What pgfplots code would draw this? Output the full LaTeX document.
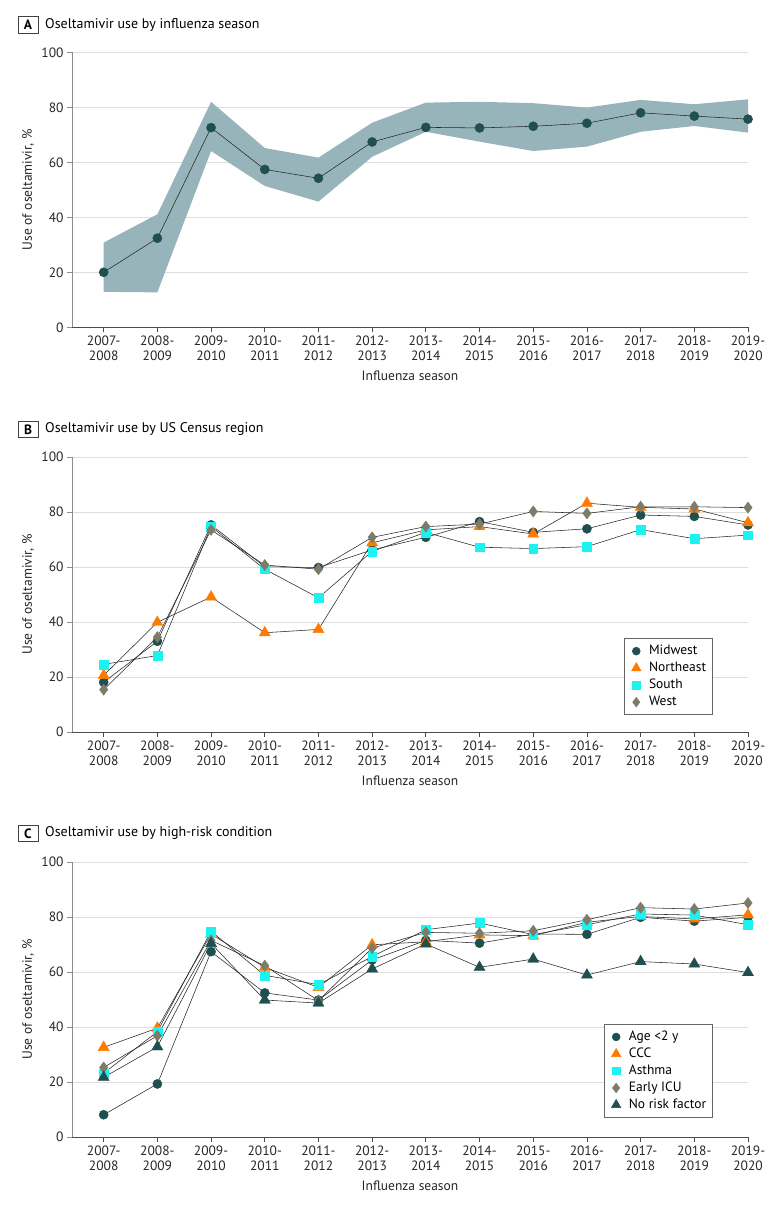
\documentclass[border=0pt]{standalone}
\usepackage{fontspec}
\setmainfont{PT Sans}
\usepackage{pgfplots}
\usepackage{pgfplotstable}
\pgfplotsset{compat=1.18}

\definecolor{band}{HTML}{98B4BB}
\definecolor{dteal}{HTML}{1F4F4E}
\definecolor{orng}{HTML}{FF7A00}
\definecolor{cyn}{HTML}{1CF2F2}
\definecolor{olive}{HTML}{7E7C69}
\definecolor{gridc}{HTML}{DDDDDD}

% panel A: mean
\pgfplotstableread{
x mean
0 20.0
1 32.4
2 72.6
3 57.4
4 54.2
5 67.4
6 72.7
7 72.5
8 73.1
9 74.2
10 78.0
11 76.8
12 75.7
}\tabA

% panel B: census region
\pgfplotstableread{
x mw ne so we
0 18.1 20.6 24.6 15.4
1 33.0 39.9 27.8 34.5
2 75.3 49.1 74.7 73.5
3 60.1 36.1 59.2 60.7
4 59.8 37.3 48.8 59.2
5 66.2 68.8 65.7 70.8
6 70.8 73.5 72.6 74.7
7 76.5 74.7 67.2 75.6
8 72.6 72.0 66.7 80.2
9 73.9 83.2 67.4 79.5
10 78.9 81.7 73.6 81.9
11 78.4 81.1 70.3 81.9
12 75.3 76.1 71.6 81.6
}\tabB

% panel C: high-risk condition
\pgfplotstableread{
x age ccc ast icu nrf
0 8.1 32.6 23.2 25.3 21.7
1 19.3 39.6 38.3 36.8 32.8
2 67.4 73.8 74.8 71.5 70.4
3 52.4 61.7 58.8 62.3 49.8
4 49.8 54.4 55.4 49.6 48.7
5 64.4 69.9 65.6 68.7 61.1
6 71.5 71.0 75.4 74.4 70.2
7 70.5 73.5 77.8 74.1 61.7
8 73.8 73.2 73.6 75.0 64.7
9 73.7 78.1 77.2 79.0 58.9
10 79.9 80.2 81.1 83.4 63.8
11 78.5 79.3 80.7 82.9 62.9
12 79.9 80.8 77.2 85.1 59.8
}\tabC

\newcommand{\fs}{\fontsize{13.5}{15}\selectfont}

\pgfplotsset{
  flu/.style={
    width=676pt, height=275pt, scale only axis,
    xmin=-0.59, xmax=12, ymin=0, ymax=100,
    xtick={0,...,12},
    xticklabels={{2007-\\2008},{2008-\\2009},{2009-\\2010},{2010-\\2011},{2011-\\2012},{2012-\\2013},{2013-\\2014},{2014-\\2015},{2015-\\2016},{2016-\\2017},{2017-\\2018},{2018-\\2019},{2019-\\2020}},
    ytick={0,20,...,100},
    axis x line*=bottom, axis y line*=left,
    x axis line style={draw=black!70, -, line width=0.8pt},
    y axis line style={draw=black!45, -, line width=0.8pt},
    tick align=outside, major tick length=5pt,
    xtick style={draw=black!70, line width=0.8pt},
    ytick style={draw=black!45, line width=0.8pt},
    ymajorgrids, grid style={gridc, line width=0.9pt},
    tick label style={font=\fs, text=black!85},
    xticklabel style={align=center},
    /pgf/number format/assume math mode=true,
    xlabel={Influenza season}, ylabel={Use of oseltamivir, \%},
    label style={font=\fs, text=black!85},
    xlabel style={at={(axis description cs:0.5,-0.178)}, anchor=center},
    ylabel style={at={(axis description cs:-0.0651,0.5)}, anchor=center},
    legend cell align=left,
    legend style={font=\fs, draw=black!60, line width=0.6pt, inner sep=4pt,
      nodes={text height=10.2pt, text depth=3.3pt, inner sep=1.75pt}},
    clip=false,
  },
  ln/.style={black!85, line width=0.55pt, forget plot},
  % marks only in the legend, set a little left of the entry text
  lg/.style={legend image code/.code={%
      \path[draw=none, fill=none] (0pt,-4pt) rectangle (19pt,4pt);
      \draw[##1, /tikz/every mark/.append style={scale=0.85}] plot coordinates {(8pt,0pt)};}},
  mA/.style={only marks, mark=*, mark size=4.6pt, mark options={fill=dteal, draw=dteal}, lg},
  mB/.style={only marks, mark=triangle*, mark size=6.4pt, mark options={fill=orng, draw=orng}, lg},
  mC/.style={only marks, mark=square*, mark size=4.4pt, mark options={fill=cyn, draw=cyn}, lg},
  mD/.style={only marks, mark=diamond*, mark size=5.6pt, mark options={fill=olive, draw=olive}, lg},
  mE/.style={only marks, mark=triangle*, mark size=6.4pt, mark options={fill=dteal, draw=dteal}, lg},
}

\newcommand{\panel}[3]{%
  \node[draw=black!75, line width=0.6pt, minimum width=20pt, minimum height=16.7pt, inner sep=0pt,
        font=\fs\bfseries] at (-44pt,#1) {#2};
  \node[anchor=west, font=\fontsize{14}{16}\selectfont, inner sep=0pt] at (-27pt,#1) {#3};}

\begin{document}
\begin{tikzpicture}

% A
\begin{axis}[flu, at={(0pt,0pt)}, anchor=south west]
  % interval band: upper bound left to right, lower bound right to left
  \addplot[fill=band, draw=none, forget plot] coordinates {
    (0,30.8) (1,41.1) (2,82.0) (3,65.2) (4,61.7) (5,74.4) (6,81.7)
    (7,82.0) (8,81.5) (9,79.9) (10,82.7) (11,81.1) (12,82.9)
    (12,70.8) (11,73.2) (10,71.1) (9,65.7) (8,64.1) (7,67.5) (6,71.1)
    (5,62.0) (4,45.7) (3,51.4) (2,64.1) (1,12.7) (0,12.9)} -- cycle;
  \addplot[ln] table[x=x, y=mean] {\tabA};
  \addplot[mA, forget plot] table[x=x, y=mean] {\tabA};
\end{axis}
\panel{302.3pt}{A}{Oseltamivir use by influenza season}

% B
\begin{axis}[flu, at={(0pt,-404.7pt)}, anchor=south west,
  legend style={at={(0.947,0.062)}, anchor=south east}]
  \addplot[ln] table[x=x, y=mw] {\tabB};
  \addplot[ln] table[x=x, y=ne] {\tabB};
  \addplot[ln] table[x=x, y=so] {\tabB};
  \addplot[ln] table[x=x, y=we] {\tabB};
  \addplot[mA] table[x=x, y=mw] {\tabB};
  \addplot[mB] table[x=x, y=ne] {\tabB};
  \addplot[mC] table[x=x, y=so] {\tabB};
  \addplot[mD] table[x=x, y=we] {\tabB};
  \legend{Midwest, Northeast, South, West}
\end{axis}
\panel{-102pt}{B}{Oseltamivir use by US Census region}

% C
\begin{axis}[flu, at={(0pt,-809.7pt)}, anchor=south west,
  legend style={at={(0.947,0.07)}, anchor=south east}]
  \addplot[ln] table[x=x, y=age] {\tabC};
  \addplot[ln] table[x=x, y=ccc] {\tabC};
  \addplot[ln] table[x=x, y=ast] {\tabC};
  \addplot[ln] table[x=x, y=icu] {\tabC};
  \addplot[ln] table[x=x, y=nrf] {\tabC};
  \addplot[mA] table[x=x, y=age] {\tabC};
  \addplot[mB] table[x=x, y=ccc] {\tabC};
  \addplot[mC] table[x=x, y=ast] {\tabC};
  \addplot[mD] table[x=x, y=icu] {\tabC};
  \addplot[mE] table[x=x, y=nrf] {\tabC};
  \legend{Age <2 y, CCC, Asthma, Early ICU, No risk factor}
\end{axis}
\panel{-506pt}{C}{Oseltamivir use by high-risk condition}

\pgfresetboundingbox
\path[use as bounding box] (-72pt,327.3pt) rectangle (708pt,-879.7pt);
\end{tikzpicture}
\end{document}
